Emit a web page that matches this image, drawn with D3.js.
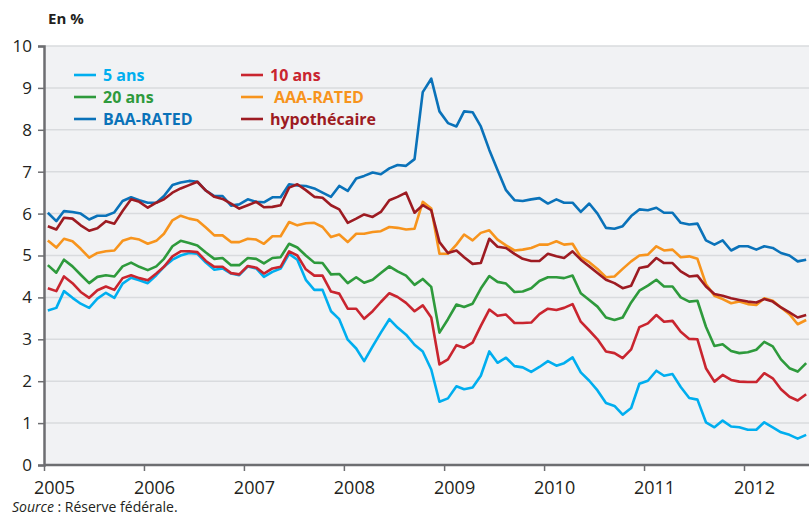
<!DOCTYPE html>
<html lang="fr">
<head>
<meta charset="UTF-8" />
<title>Taux</title>
<script src="https://d3js.org/d3.v7.min.js"></script>
<style>
  body { margin: 0; background: #fff; }
  text { font-family: "Open Sans", "Noto Sans", sans-serif; fill: #231f20; }
</style>
</head>
<body>
<script>
// monthly values, Jan 2005 -> Aug 2012 (en %)
var years = [2005, 2006, 2007, 2008, 2009, 2010, 2011, 2012];
var yTicks = [0, 1, 2, 3, 4, 5, 6, 7, 8, 9, 10];

var ans5 = [3.69, 3.75, 4.15, 3.99, 3.85, 3.75, 3.97, 4.11, 3.99, 4.33, 4.47, 4.41, 4.34, 4.53, 4.73, 4.90, 5.00, 5.06, 5.04, 4.83, 4.66, 4.69, 4.57, 4.53, 4.74, 4.69, 4.49, 4.61, 4.69, 5.04, 4.90, 4.42,
  4.18, 4.18, 3.67, 3.48, 2.99, 2.78, 2.48, 2.83, 3.16, 3.48, 3.28, 3.11, 2.87, 2.71, 2.28, 1.51, 1.59, 1.88, 1.81, 1.85, 2.13, 2.71, 2.44, 2.56, 2.36, 2.33, 2.22, 2.34, 2.48,
  2.37, 2.43, 2.57, 2.21, 2.01, 1.78, 1.48, 1.41, 1.20, 1.36, 1.94, 2.01, 2.25, 2.13, 2.17, 1.86, 1.60, 1.56, 1.02, 0.90, 1.06, 0.92, 0.90, 0.84, 0.84, 1.02, 0.90, 0.78, 0.72, 0.63, 0.72];

var ans10 = [4.22, 4.15, 4.50, 4.34, 4.13, 3.99, 4.17, 4.26, 4.18, 4.46, 4.53, 4.46, 4.41, 4.57, 4.73, 4.98, 5.10, 5.10, 5.08, 4.87, 4.73, 4.73, 4.58, 4.55, 4.75, 4.71, 4.57, 4.69, 4.73, 5.10, 5.00, 4.67,
  4.52, 4.52, 4.14, 4.09, 3.73, 3.73, 3.49, 3.67, 3.89, 4.10, 4.01, 3.87, 3.67, 3.81, 3.52, 2.40, 2.52, 2.86, 2.80, 2.92, 3.32, 3.71, 3.56, 3.59, 3.39, 3.39, 3.40, 3.60, 3.73,
  3.70, 3.75, 3.84, 3.42, 3.21, 3.00, 2.71, 2.67, 2.55, 2.76, 3.29, 3.38, 3.58, 3.42, 3.44, 3.18, 3.01, 3.00, 2.31, 1.99, 2.15, 2.03, 1.99, 1.98, 1.98, 2.19, 2.07, 1.81, 1.63, 1.54, 1.69];

var ans20 = [4.77, 4.59, 4.90, 4.74, 4.54, 4.34, 4.49, 4.53, 4.50, 4.74, 4.83, 4.73, 4.65, 4.74, 4.92, 5.22, 5.35, 5.30, 5.24, 5.07, 4.92, 4.94, 4.77, 4.77, 4.94, 4.92, 4.81, 4.94, 4.96, 5.28, 5.19, 5.00,
  4.83, 4.82, 4.55, 4.56, 4.34, 4.48, 4.35, 4.42, 4.58, 4.74, 4.62, 4.52, 4.30, 4.44, 4.25, 3.16, 3.48, 3.83, 3.77, 3.85, 4.21, 4.51, 4.37, 4.33, 4.13, 4.14, 4.22, 4.39, 4.48,
  4.48, 4.46, 4.52, 4.10, 3.94, 3.78, 3.52, 3.46, 3.52, 3.88, 4.16, 4.28, 4.42, 4.26, 4.26, 4.00, 3.90, 3.92, 3.30, 2.84, 2.88, 2.72, 2.67, 2.69, 2.75, 2.94, 2.83, 2.52, 2.31, 2.23, 2.43];

var aaa = [5.36, 5.19, 5.40, 5.34, 5.16, 4.95, 5.06, 5.10, 5.12, 5.35, 5.42, 5.38, 5.28, 5.35, 5.52, 5.84, 5.95, 5.88, 5.84, 5.67, 5.48, 5.48, 5.32, 5.32, 5.40, 5.38, 5.28, 5.46, 5.46, 5.80, 5.72, 5.77,
  5.78, 5.68, 5.44, 5.50, 5.32, 5.52, 5.52, 5.56, 5.58, 5.68, 5.66, 5.62, 5.64, 6.28, 6.12, 5.04, 5.04, 5.26, 5.50, 5.36, 5.54, 5.60, 5.38, 5.24, 5.12, 5.14, 5.18, 5.26, 5.26,
  5.34, 5.26, 5.28, 4.96, 4.84, 4.68, 4.48, 4.50, 4.68, 4.86, 5.00, 5.02, 5.22, 5.12, 5.14, 4.96, 4.98, 4.92, 4.32, 4.04, 3.96, 3.86, 3.90, 3.84, 3.82, 3.98, 3.92, 3.76, 3.60, 3.36, 3.46];

var baa = [6.02, 5.82, 6.06, 6.04, 6.00, 5.86, 5.95, 5.95, 6.03, 6.30, 6.39, 6.32, 6.26, 6.26, 6.42, 6.68, 6.74, 6.78, 6.76, 6.55, 6.42, 6.42, 6.19, 6.22, 6.34, 6.28, 6.27, 6.39, 6.39, 6.70, 6.67, 6.66,
  6.60, 6.50, 6.40, 6.66, 6.54, 6.84, 6.90, 6.98, 6.94, 7.08, 7.16, 7.14, 7.30, 8.90, 9.22, 8.44, 8.16, 8.08, 8.44, 8.42, 8.08, 7.52, 7.04, 6.56, 6.32, 6.30, 6.34, 6.37, 6.24,
  6.34, 6.26, 6.26, 6.04, 6.24, 6.00, 5.66, 5.64, 5.70, 5.94, 6.10, 6.08, 6.14, 6.02, 6.02, 5.78, 5.74, 5.76, 5.36, 5.26, 5.36, 5.12, 5.22, 5.22, 5.14, 5.22, 5.18, 5.06, 5.00, 4.86, 4.90];

var hypo = [5.70, 5.62, 5.90, 5.88, 5.72, 5.59, 5.65, 5.82, 5.76, 6.06, 6.34, 6.28, 6.14, 6.26, 6.34, 6.50, 6.60, 6.68, 6.76, 6.55, 6.40, 6.35, 6.24, 6.12, 6.20, 6.28, 6.15, 6.16, 6.20, 6.62, 6.70, 6.56,
  6.40, 6.38, 6.20, 6.10, 5.78, 5.88, 5.98, 5.92, 6.04, 6.32, 6.40, 6.50, 6.02, 6.20, 6.08, 5.32, 5.06, 5.12, 4.96, 4.80, 4.82, 5.40, 5.21, 5.18, 5.04, 4.92, 4.87, 4.87, 5.04,
  4.98, 4.94, 5.10, 4.90, 4.74, 4.58, 4.42, 4.34, 4.22, 4.28, 4.70, 4.74, 4.94, 4.82, 4.82, 4.62, 4.50, 4.52, 4.26, 4.08, 4.04, 3.98, 3.94, 3.90, 3.88, 3.96, 3.90, 3.76, 3.64, 3.52, 3.58];

var series = [
  { name: "5 ans", values: ans5, color: "#00aeef" },
  { name: "10 ans", values: ans10, color: "#c9252f" },
  { name: "20 ans", values: ans20, color: "#2e9a3c" },
  { name: "BAA-RATED", values: baa, color: "#0a72b9" },
  { name: "AAA-RATED", values: aaa, color: "#f7941d" },
  { name: "hypothécaire", values: hypo, color: "#9d1b22" }
];

var W = 809, H = 516;
var mLeft = 44, mTop = 46, mRight = 809, mBottom = 465;

var svg = d3.select("body").append("svg").attr("width", W).attr("height", H);

// mid-month dates
var months = d3.timeMonth.range(new Date(2005, 0, 1), new Date(2012, 8, 1)).map(function(d) {
  return new Date(d.getFullYear(), d.getMonth(), 15);
});

var x = d3.scaleTime()
  .domain([new Date(2005, 0, 1), new Date(2012, 0, 1)])
  .range([mLeft, mLeft + 700]);
var y = d3.scaleLinear().domain([0, 10]).range([mBottom, mTop]);

// plot background
svg.append("rect")
  .attr("x", mLeft).attr("y", mTop)
  .attr("width", mRight - mLeft).attr("height", mBottom - mTop)
  .attr("fill", "#f1f2f4");

// grid
svg.append("g").selectAll("line")
  .data(yTicks.filter(function(d) { return d > 0; }))
  .enter().append("line")
  .attr("x1", mLeft).attr("x2", mRight)
  .attr("y1", function(d) { return y(d); })
  .attr("y2", function(d) { return y(d); })
  .attr("stroke", "#d9dbde").attr("stroke-width", 1.5);

// lines
var line = d3.line()
  .x(function(d, i) { return x(months[i]); })
  .y(function(d) { return y(d); });

svg.append("g").selectAll("path")
  .data(series)
  .enter().append("path")
  .attr("d", function(s) { return line(s.values); })
  .attr("fill", "none")
  .attr("stroke", function(s) { return s.color; })
  .attr("stroke-width", 2.6)
  .attr("stroke-linejoin", "round");

// y axis
var yAxis = svg.append("g")
  .attr("transform", "translate(" + mLeft + ",0)")
  .call(d3.axisLeft(y).tickValues(yTicks).tickSize(6).tickPadding(6));
yAxis.select(".domain").attr("stroke", "#6d6e71").attr("stroke-width", 2.5);
yAxis.selectAll(".tick line").attr("stroke", "#6d6e71").attr("stroke-width", 1.5);
yAxis.selectAll(".tick text")
  .attr("font-size", 17).attr("font-family", "'Open Sans', sans-serif").attr("fill", "#231f20")
  .attr("x", -12);

// x axis
var xAxis = svg.append("g")
  .attr("transform", "translate(0," + mBottom + ")")
  .call(d3.axisBottom(x)
    .tickValues(years.map(function(yr) { return new Date(yr, 0, 1); }))
    .tickFormat(d3.timeFormat("%Y"))
    .tickSize(6).tickPadding(8));
xAxis.select(".domain").attr("stroke", "#6d6e71").attr("stroke-width", 2.5)
  .attr("d", "M" + mLeft + ",0H" + mRight);
xAxis.selectAll(".tick line").attr("stroke", "#6d6e71").attr("stroke-width", 1.5);
xAxis.selectAll(".tick text")
  .attr("font-size", 18).attr("font-family", "'Open Sans', sans-serif").attr("fill", "#231f20")
  .attr("x", 10).attr("dy", "0.85em");

// legend
var legendPos = [
  { x: 74, y: 75, dx: 0 },
  { x: 241, y: 75, dx: 0 },
  { x: 74, y: 97, dx: 0 },
  { x: 241, y: 97, dx: 4 },
  { x: 74, y: 119, dx: 0 },
  { x: 241, y: 119, dx: 0 }
];
var legendOrder = ["5 ans", "10 ans", "20 ans", "AAA-RATED", "BAA-RATED", "hypothécaire"];
var lg = svg.append("g").selectAll("g")
  .data(legendOrder.map(function(n) { return series.find(function(s) { return s.name === n; }); }))
  .enter().append("g")
  .attr("transform", function(d, i) { return "translate(" + legendPos[i].x + "," + legendPos[i].y + ")"; });
lg.append("line")
  .attr("x1", 0).attr("x2", 22)
  .attr("stroke", function(d) { return d.color; })
  .attr("stroke-width", 2.6);
lg.append("text")
  .attr("x", function(d, i) { return 29 + legendPos[i].dx; })
  .attr("dy", "0.36em")
  .attr("font-size", 16).attr("font-weight", "bold")
  .style("fill", function(d) { return d.color; })
  .text(function(d) { return d.name; });

// titles
svg.append("text").attr("x", 48).attr("y", 24)
  .attr("font-size", 15).attr("font-weight", "bold").text("En %");

var src = svg.append("text").attr("x", 12).attr("y", 512).attr("font-size", 14);
src.append("tspan").attr("font-style", "italic").text("Source");
src.append("tspan").text(" : Réserve fédérale.");
</script>
</body>
</html>
